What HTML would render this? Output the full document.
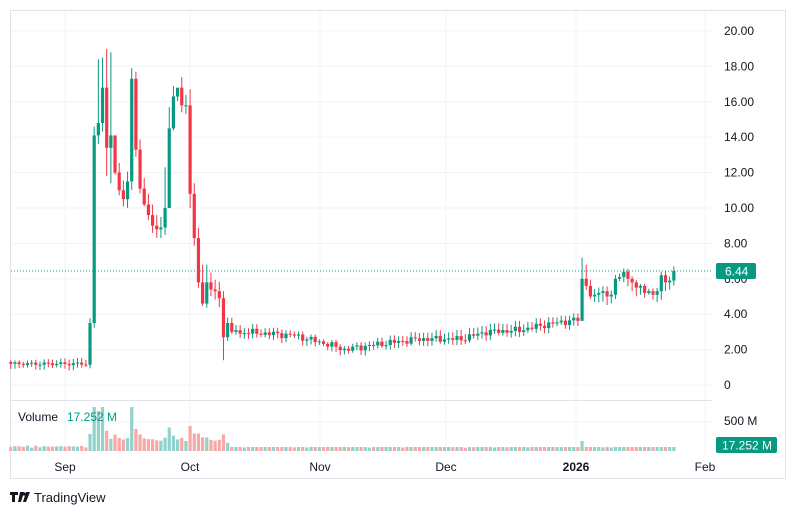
<!DOCTYPE html>
<html><head><meta charset="utf-8"><style>
body{margin:0;background:#fff;width:802px;height:515px;overflow:hidden;font-family:"Liberation Sans",sans-serif}
svg text{font-family:"Liberation Sans",sans-serif}
</style></head><body>
<svg id="s" width="802" height="515" xmlns="http://www.w3.org/2000/svg"></svg>
<script>
var s=document.getElementById('s'),h='';
function Y(p){return 385-17.7*p}
function X(i){return 65+(i-13)*4.17}
h+='<rect x="10.5" y="10.5" width="775" height="468" fill="none" stroke="#e0e3eb"/>';
for(var p=0;p<=20;p+=2){h+='<line x1="11" x2="712" y1="'+Y(p)+'" y2="'+Y(p)+'" stroke="#f0f3fa"/>';}
[65,190,320,446,576,705].forEach(function(x){h+='<line x1="'+x+'" x2="'+x+'" y1="11" y2="455" stroke="#f0f3fa"/>'});
h+='<line x1="11" x2="712" y1="400.5" y2="400.5" stroke="#e0e3eb"/>';
h+='<line x1="11" x2="712" y1="422" y2="422" stroke="#f0f3fa"/>';
var c=[];
for(var i=0;i<19;i++)c.push(1.2+0.08*Math.sin(i*1.7));
c=c.concat([3.5,14.1,14.8,16.8,13.4,14.1,12.0,11.0,10.5,11.5,17.3,13.3,11.1,10.2,9.6,9.0,8.8,8.9,10.0,14.5,16.3,16.8,15.8,15.8,10.8,8.3,5.8,4.6,5.8,5.4,5.3,4.9,2.7,3.5,3.0,3.1,2.9]);
var pts=[[56,3.0],[68,2.8],[76,2.3],[80,2.0],[88,2.3],[98,2.6],[108,2.6],[114,3.0],[122,3.1],[128,3.4],[136,3.7]];
for(var i=c.length;i<=136;i++){var k=0;while(pts[k+1][0]<i)k++;var a=pts[k],b=pts[k+1];var v=a[1]+(b[1]-a[1])*(i-a[0])/(b[0]-a[0]);c.push(v+0.13*Math.sin(i*2.3)+0.08*Math.cos(i*1.3));}
c=c.concat([6.0,5.6,5.0,5.1,5.2,5.3,5.0,5.1,6.0,6.1,6.4,6.0,5.8,5.5,5.6,5.2,5.3,5.1,5.3,6.2,5.8,5.9,6.44]);
var hi={20:14.6,21:18.4,22:18.5,23:19.0,24:18.8,25:13.9,29:17.9,30:17.7,37:12.3,38:15.7,40:16.5,43:16.7,44:11.4,46:6.8,47:6.8,51:5.3,137:7.2,138:6.8};
var lo={23:11.8,24:11.4,38:11.2,43:10.0,51:1.4,137:3.8};
for(var i=0;i<c.length;i++){
 var o=i?c[i-1]:1.3,cl=c[i];var up=cl>=o;var col=up?'#089981':'#F23645';
 var H=hi[i]||Math.max(o,cl)+0.1+0.25*Math.abs(Math.sin(i*3.1))*(Math.max(o,cl)>4?2:1);
 var L=lo[i]||Math.min(o,cl)-0.1-0.2*Math.abs(Math.cos(i*2.7))*(Math.min(o,cl)>4?2:1);
 var x=X(i);
 h+='<line x1="'+x+'" x2="'+x+'" y1="'+Y(H)+'" y2="'+Y(L)+'" stroke="'+col+'" stroke-width="1"/>';
 var y1=Y(Math.max(o,cl)),y2=Y(Math.min(o,cl));if(y2-y1<1)y2=y1+1;
 h+='<rect x="'+(x-1.6)+'" y="'+y1+'" width="3.2" height="'+(y2-y1)+'" fill="'+col+'"/>';
 var vv=Math.abs(cl-o)/Math.max(o,1)*14+3+Math.abs(Math.sin(i*1.9));
 if(i>=19&&i<52)vv=Math.min(44,Math.abs(cl-o)*3+10);
 if(i==20||i==22)vv=44;if(i==29)vv=44;if(i==21)vv=40;
 if(i>52)vv=Math.min(vv,4);if(i==137)vv=10;
 h+='<rect x="'+(x-1.6)+'" y="'+(451-vv)+'" width="3.2" height="'+vv+'" fill="'+(up?'#92d2cc':'#f7a9a7')+'"/>';
}
h+='<line x1="11" x2="712" y1="271" y2="271" stroke="#089981" stroke-dasharray="1,2"/>';
for(var p=0;p<=20;p+=2){var t=p==0?'0':p.toFixed(2);h+='<text x="724" y="'+(Y(p)+4)+'" font-size="12" fill="#131722">'+t+'</text>';}
h+='<rect x="716" y="263" width="40" height="16" rx="2" fill="#089981"/><text x="725" y="275.5" font-size="12" fill="#fff">6.44</text>';
h+='<text x="724" y="425" font-size="12" fill="#131722">500 M</text>';
h+='<rect x="716" y="437" width="61" height="16" rx="2" fill="#089981"/><text x="722" y="449.5" font-size="12" fill="#fff">17.252 M</text>';
h+='<text x="18" y="421" font-size="12" fill="#131722">Volume</text><text x="67" y="421" font-size="12" fill="#089981">17.252 M</text>';
[['Sep',65],['Oct',190],['Nov',320],['Dec',446],['2026',576],['Feb',705]].forEach(function(m){h+='<text x="'+m[1]+'" y="471" font-size="12" text-anchor="middle" fill="#131722"'+(m[0]=='2026'?' font-weight="bold"':'')+'>'+m[0]+'</text>'});
h+='<path d="M10 492h8v3h-3v7h-3v-7h-2z M20 492h4l-3 10h-3z" fill="#131722"/><circle cx="24" cy="494" r="1.6" fill="#131722"/><path d="M26 492h4l-4 10h-3z" fill="#131722"/>';
h+='<text x="34" y="502" font-size="13" fill="#131722">TradingView</text>';
s.innerHTML=h;
</script>
</body></html>
